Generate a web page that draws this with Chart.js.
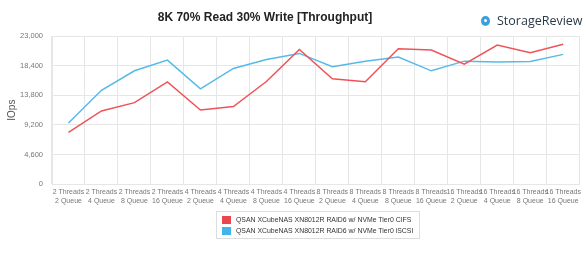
<!DOCTYPE html>
<html>
<head>
<meta charset="utf-8">
<script src="https://cdn.jsdelivr.net/npm/chart.js@4"></script>
<style>
  body { margin: 0; background: #fff; font-family: "Liberation Sans", Arial, sans-serif; }
  #wrap { position: relative; width: 585px; height: 260px; }
  #logo { position: absolute; left: 481px; top: 12px; font-family: "Open Sans", sans-serif; font-size: 12.5px; color: #2b3a4a; display: flex; align-items: center; white-space: nowrap; }
  #logo .icon { width: 9px; height: 10px; border-radius: 50%; background: #3a9fdc; margin-right: 7px; position: relative; }
  #logo .icon:after { content: ""; position: absolute; left: 3px; top: 3px; width: 3px; height: 3px; border-radius: 50%; background: #fff; }
  #legend { position: absolute; left: 216px; top: 211px; width: 204px; border: 1px solid #ddd; padding: 2px 0 2px 5px; box-sizing: border-box; font-size: 6.9px; color: #333; white-space: nowrap; }
  #legend div { display: flex; align-items: center; height: 11px; }
  #legend span.sw { width: 9px; height: 8px; margin-right: 5px; display: inline-block; flex: none; }
</style>
</head>
<body>
<div id="wrap">
  <canvas id="chart" width="585" height="260"></canvas>
  <div id="logo"><span class="icon"></span>StorageReview</div>
  <div id="legend"></div>
</div>
<script>
// категории по оси X
const labels = [
  ["2 Threads", "2 Queue"], ["2 Threads", "4 Queue"], ["2 Threads", "8 Queue"], ["2 Threads", "16 Queue"],
  ["4 Threads", "2 Queue"], ["4 Threads", "4 Queue"], ["4 Threads", "8 Queue"], ["4 Threads", "16 Queue"],
  ["8 Threads", "2 Queue"], ["8 Threads", "4 Queue"], ["8 Threads", "8 Queue"], ["8 Threads", "16 Queue"],
  ["16 Threads", "2 Queue"], ["16 Threads", "4 Queue"], ["16 Threads", "8 Queue"], ["16 Threads", "16 Queue"],
];

const seriesNames = [
  "QSAN XCubeNAS XN8012R RAID6 w/ NVMe Tier0 CIFS",
  "QSAN XCubeNAS XN8012R RAID6 w/ NVMe Tier0 iSCSI",
];

const cifsValues = [8040, 11380, 12670, 15890, 11530, 12050, 15940, 20900,
  16360, 15890, 21030, 20820, 18640, 21600, 20410, 21710];
const iscsiValues = [9500, 14580, 17610, 19260, 14800, 17970, 19370, 20300,
  18230, 19100, 19730, 17600, 19100, 18950, 19060, 20150];

const yTicks = [0, 4600, 9200, 13800, 18400, 23000];

const colors = ["#ef5359", "#55baea"];
const swatchColors = ["#e8474d", "#45b4e8"];

// свой заголовок по центру
const titlePlugin = {
  id: "titlePlugin",
  afterDraw(chart) {
    const ctx = chart.ctx;
    ctx.save();
    ctx.font = "bold 12px 'Liberation Sans', Arial, sans-serif";
    ctx.fillStyle = "#222";
    ctx.textAlign = "center";
    ctx.textBaseline = "middle";
    ctx.fillText("8K 70% Read 30% Write [Throughput]", 265, 18);
    ctx.restore();
  },
};

new Chart(document.getElementById("chart").getContext("2d"), {
  type: "line",
  data: {
    labels: labels,
    datasets: [
      { label: seriesNames[0], data: cifsValues, borderColor: colors[0], backgroundColor: colors[0] },
      { label: seriesNames[1], data: iscsiValues, borderColor: colors[1], backgroundColor: colors[1] },
    ],
  },
  options: {
    responsive: false,
    animation: false,
    elements: {
      line: { borderWidth: 1.5, tension: 0 },
      point: { radius: 0 },
    },
    layout: { padding: { top: 36, right: 2, left: 0, bottom: 0 } },
    scales: {
      x: {
        offset: true,
        grid: { color: "#e6e6e6", offset: true, drawTicks: false },
        border: { color: "#e6e6e6" },
        ticks: {
          color: "#777",
          font: { size: 7, family: "'Liberation Sans', Arial, sans-serif" },
          maxRotation: 0,
          autoSkip: false,
          padding: 4,
        },
        afterFit(scale) { scale.height = 75.7; },
      },
      y: {
        min: 0,
        max: 23000,
        afterBuildTicks(scale) { scale.ticks = yTicks.map((v) => ({ value: v })); },
        grid: { color: "#e6e6e6", drawTicks: false },
        border: { color: "#e6e6e6" },
        ticks: {
          color: "#777",
          font: { size: 7.5, family: "'Liberation Sans', Arial, sans-serif" },
          padding: 9,
          callback: (v) => v.toLocaleString("en-US"),
        },
        title: {
          display: true,
          text: "IOps",
          color: "#555",
          font: { size: 10, family: "'Liberation Sans', Arial, sans-serif" },
          padding: { top: 6, bottom: 0 },
        },
        afterFit(scale) { scale.width = 52; },
      },
    },
    plugins: {
      legend: { display: false },
      tooltip: { enabled: false },
    },
  },
  plugins: [titlePlugin],
});

// легенда в рамке под графиком
const legend = document.getElementById("legend");
seriesNames.forEach((name, i) => {
  const row = document.createElement("div");
  row.innerHTML = `<span class="sw" style="background:${swatchColors[i]}"></span>${name}`;
  legend.appendChild(row);
});
</script>
</body>
</html>
